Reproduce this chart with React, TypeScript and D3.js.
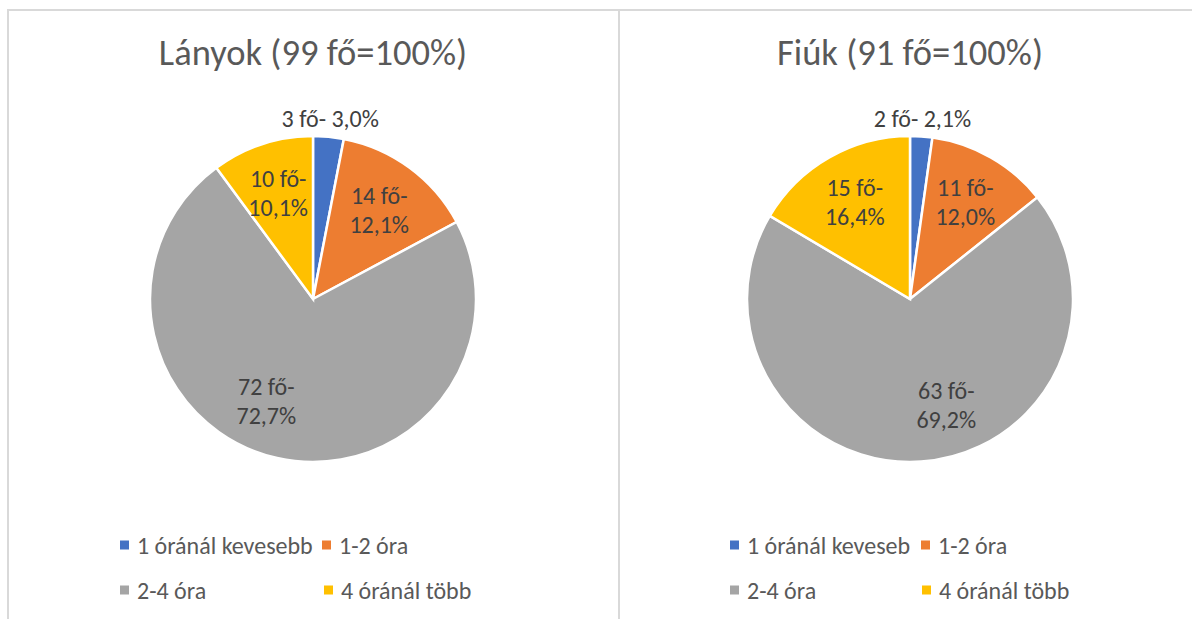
import React from 'react';
import * as d3 from 'd3';

const girlsCategories = ['1 óránál kevesebb', '1-2 óra', '2-4 óra', '4 óránál több'];
const boysCategories = ['1 óránál keveseb', '1-2 óra', '2-4 óra', '4 óránál több'];
const girlsCounts = [3, 14, 72, 10];
const girlsPercentLabels = ['3,0%', '12,1%', '72,7%', '10,1%'];
const boysCounts = [2, 11, 63, 15];
const boysPercentLabels = ['2,1%', '12,0%', '69,2%', '16,4%'];
const girlsTitle = 'Lányok (99 fő=100%)';
const boysTitle = 'Fiúk (91 fő=100%)';

const colors = ['#4472C4', '#ED7D31', '#A5A5A5', '#FFC000'];
const FONT = "Calibri, Carlito, Lato, sans-serif";

type PieProps = {
  cx: number;
  cy: number;
  r: number;
  title: string;
  counts: number[];
  pcts: string[];
  cats: string[];
  legendCols: [number, number, number, number];
  bigShift: number;
};

function Pie({ cx, cy, r, title, counts, pcts, cats, legendCols, bigShift }: PieProps) {
  const pie = d3.pie<number>().sort(null).value((d) => d);
  const arcs = pie(counts);
  const arc = d3.arc<d3.PieArcDatum<number>>().innerRadius(0).outerRadius(r);
  return (
    <g>
      <text x={cx} y={65} textAnchor="middle" fontFamily={FONT} fontSize={36.5} fill="#595959">
        {title}
      </text>
      <g transform={`translate(${cx},${cy})`}>
        {arcs.map((a, i) => (
          <path key={i} d={arc(a) || ''} fill={colors[i]} stroke="#fff" strokeWidth={2.5} />
        ))}
        {arcs.map((a, i) => {
          const frac = (a.endAngle - a.startAngle) / (2 * Math.PI);
          let mid = (a.startAngle + a.endAngle) / 2;
          if (frac < 0.05) {
            const rr = r + 18;
            const x = rr * Math.sin(mid);
            const y = -rr * Math.cos(mid);
            return (
              <text key={'l' + i} x={x} y={y} textAnchor="middle" dominantBaseline="central"
                fontFamily={FONT} fontSize={24} fill="#404040">
                {`${counts[i]} fő- ${pcts[i]}`}
              </text>
            );
          }
          if (frac > 0.5) mid += (bigShift * Math.PI) / 180;
          const rr = r * 0.685;
          const x = rr * Math.sin(mid);
          const y = -rr * Math.cos(mid);
          return (
            <g key={'l' + i} fontFamily={FONT} fontSize={24} fill="#404040">
              <text x={x} y={y - 14} textAnchor="middle" dominantBaseline="central">{`${counts[i]} fő-`}</text>
              <text x={x} y={y + 15} textAnchor="middle" dominantBaseline="central">{pcts[i]}</text>
            </g>
          );
        })}
      </g>
      {cats.map((c, i) => {
        const row = Math.floor(i / 2);
        const sx = legendCols[i];
        const y = 545 + row * 45;
        return (
          <g key={'lg' + i}>
            <rect x={sx} y={y - 4.5} width={9} height={9} fill={colors[i]} />
            <text x={sx + 17} y={y} dominantBaseline="central" fontFamily={FONT} fontSize={24} fill="#595959">
              {c}
            </text>
          </g>
        );
      })}
    </g>
  );
}

export default function App() {
  return (
    <svg width={1192} height={619} style={{ position: 'absolute', left: 0, top: 0, background: '#fff' }}>
      <rect x={0} y={0} width={1192} height={619} fill="#fff" />
      <rect x={8} y={10} width={611} height={700} fill="none" stroke="#d9d9d9" strokeWidth={2} />
      <rect x={619} y={10} width={700} height={700} fill="none" stroke="#d9d9d9" strokeWidth={2} />
      <Pie cx={313} cy={299} r={163} title={girlsTitle} counts={girlsCounts} pcts={girlsPercentLabels}
        cats={girlsCategories} legendCols={[120, 322, 120, 324]} bigShift={12} />
      <Pie cx={910} cy={299} r={163} title={boysTitle} counts={boysCounts} pcts={boysPercentLabels}
        cats={boysCategories} legendCols={[730, 921, 730, 922]} bigShift={-15} />
    </svg>
  );
}
